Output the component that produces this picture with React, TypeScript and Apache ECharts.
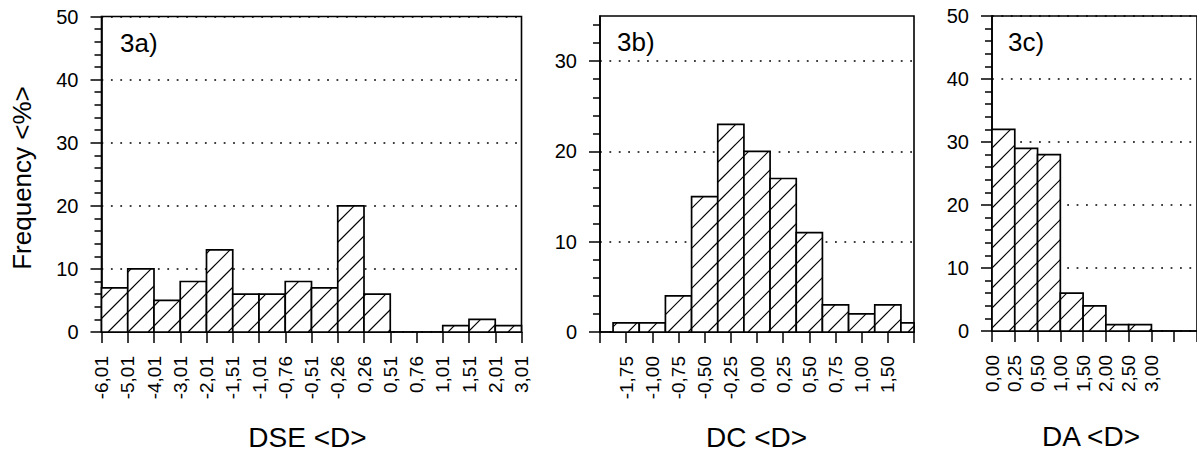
import React, { useEffect, useRef } from "react";
import * as echarts from "echarts";

// ---- data ----
const aEdgeLabels = ["-6,01", "-5,01", "-4,01", "-3,01", "-2,01", "-1,51", "-1,01", "-0,76", "-0,51", "-0,26", "0,26", "0,51", "0,76", "1,01", "1,51", "2,01", "3,01"];
const aFrequency = [7, 10, 5, 8, 13, 6, 6, 8, 7, 20, 6, 0, 0, 1, 2, 1];

const bCenterLabels = ["", "-1,75", "-1,00", "-0,75", "-0,50", "-0,25", "0,00", "0,25", "0,50", "0,75", "1,00", "1,50", ""];
const bFrequency = [0, 1, 1, 4, 15, 23, 20, 17, 11, 3, 2, 3, 1];

const cEdgeLabels = ["0,00", "0,25", "0,50", "1,00", "1,50", "2,00", "2,50", "3,00"];
const cFrequency = [32, 29, 28, 6, 4, 1, 1];

const yMajorTicksB = [0, 10, 20, 30];
const yMinorTicksB = [2, 4, 6, 8, 12, 14, 16, 18, 22, 24, 26, 28, 32, 34];

const panelLabels = ["3a)", "3b)", "3c)"];
const xTitles = ["DSE <D>", "DC <D>", "DA <D>"];
const yTitle = "Frequency <%>";

// ---- style ----
const FONT = "'Liberation Sans', Arial, Helvetica, sans-serif";
const HATCH = 20;
const BLACK = "#000";

function makeRenderItem(xMin: number, xMax: number) {
  return (params: any, api: any) => {
    const x0 = Math.max(api.value(0), xMin);
    const x1 = Math.min(api.value(1), xMax);
    const v = api.value(2);
    if (!v || x1 <= x0) return undefined;
    const pBL = api.coord([x0, 0]);
    const pTR = api.coord([x1, v]);
    const L = pBL[0], R = pTR[0], T = pTR[1], B = pBL[1];
    const children: any[] = [
      { type: "rect", shape: { x: L, y: T, width: R - L, height: B - T }, style: { fill: "#fff" } },
    ];
    const cMin = L + T, cMax = R + B;
    for (let m = Math.ceil(cMin / HATCH); m * HATCH <= cMax; m++) {
      const C = m * HATCH;
      const xs = Math.max(L, C - B);
      const xe = Math.min(R, C - T);
      if (xe - xs < 0.5) continue;
      children.push({
        type: "line",
        shape: { x1: xs, y1: C - xs, x2: xe, y2: C - xe },
        style: { stroke: BLACK, lineWidth: 1.1 },
      });
    }
    children.push({
      type: "rect",
      shape: { x: L, y: T, width: R - L, height: B - T },
      style: { fill: "none", stroke: BLACK, lineWidth: 1.7 },
    });
    return { type: "group", children };
  };
}

const axisLine = { show: true, onZero: false, lineStyle: { color: BLACK, width: 1.6 } };

function xAxisFor(gridIndex: number, max: number, labels: string[]) {
  return {
    type: "value",
    gridIndex,
    min: 0,
    max,
    interval: 1,
    axisLine,
    axisTick: { show: true, length: 11, lineStyle: { color: BLACK, width: 1.5 } },
    axisLabel: {
      rotate: 90,
      margin: 24,
      fontSize: 19,
      fontFamily: FONT,
      color: BLACK,
      showMinLabel: true,
      showMaxLabel: true,
      formatter: (v: number) => labels[Math.round(v)] ?? "",
    },
    splitLine: { show: false },
  };
}

function yAxisAC(gridIndex: number) {
  return {
    type: "value",
    gridIndex,
    min: 0,
    max: 50,
    interval: 10,
    axisLine,
    axisTick: { show: true, length: 11, lineStyle: { color: BLACK, width: 1.5 } },
    minorTick: { show: true, splitNumber: 5, length: 7, lineStyle: { color: BLACK, width: 1.5 } },
    axisLabel: { margin: 23, fontSize: 20, fontFamily: FONT, color: BLACK },
    splitLine: { show: true, lineStyle: { color: BLACK, width: 1.7, type: [1.8, 7.6] } },
  };
}

export default function App() {
  const ref = useRef<HTMLDivElement>(null);

  useEffect(() => {
    if (!ref.current) return;
    const chart = echarts.init(ref.current, undefined, { renderer: "svg" });

    const gridBase = { show: true, borderColor: BLACK, borderWidth: 1.6, backgroundColor: "transparent" };

    const option: any = {
      animation: false,
      backgroundColor: "#fff",
      grid: [
        { ...gridBase, left: 101.5, top: 16.5, width: 420, height: 315.5 },
        { ...gridBase, left: 600, top: 16, width: 314, height: 316 },
        { ...gridBase, left: 992, top: 16, width: 236, height: 315 },
      ],
      xAxis: [
        xAxisFor(0, aFrequency.length, aEdgeLabels),
        xAxisFor(1, bCenterLabels.length - 1, bCenterLabels),
        xAxisFor(2, 9, cEdgeLabels),
      ],
      yAxis: [
        yAxisAC(0),
        {
          type: "value",
          gridIndex: 1,
          min: 0,
          max: 35,
          interval: 10,
          axisLine,
          axisTick: { show: true, length: 11, lineStyle: { color: BLACK, width: 1.5 }, customValues: yMajorTicksB },
          axisLabel: { margin: 23, fontSize: 20, fontFamily: FONT, color: BLACK, customValues: yMajorTicksB },
          splitLine: { show: true, lineStyle: { color: BLACK, width: 1.7, type: [1.8, 7.6] } },
        },
        {
          type: "value",
          gridIndex: 1,
          position: "left",
          min: 0,
          max: 35,
          interval: 2,
          axisLine: { show: false },
          axisTick: { show: true, length: 7, lineStyle: { color: BLACK, width: 1.5 }, customValues: yMinorTicksB },
          axisLabel: { show: false },
          splitLine: { show: false },
        },
        yAxisAC(2),
      ],
      series: [
        {
          type: "custom",
          xAxisIndex: 0,
          yAxisIndex: 0,
          renderItem: makeRenderItem(0, aFrequency.length),
          encode: { x: [0, 1], y: 2 },
          data: aFrequency.map((f, i) => [i, i + 1, f]),
        },
        {
          type: "custom",
          xAxisIndex: 1,
          yAxisIndex: 1,
          renderItem: makeRenderItem(0, bCenterLabels.length - 1),
          encode: { x: [0, 1], y: 2 },
          data: bFrequency.map((f, i) => [i - 0.5, i + 0.5, f]),
        },
        {
          type: "custom",
          xAxisIndex: 2,
          yAxisIndex: 3,
          renderItem: makeRenderItem(0, 9),
          encode: { x: [0, 1], y: 2 },
          data: cFrequency.map((f, i) => [i, i + 1, f]),
        },
      ],
      graphic: [
        { type: "text", x: 120, y: 42.5, style: { text: panelLabels[0], font: `26px ${FONT}`, fill: BLACK, textAlign: "left", textVerticalAlign: "middle" } },
        { type: "text", x: 617, y: 41.5, style: { text: panelLabels[1], font: `26px ${FONT}`, fill: BLACK, textAlign: "left", textVerticalAlign: "middle" } },
        { type: "text", x: 1008, y: 41.5, style: { text: panelLabels[2], font: `26px ${FONT}`, fill: BLACK, textAlign: "left", textVerticalAlign: "middle" } },
        { type: "text", x: 307.5, y: 437, style: { text: xTitles[0], font: `28px ${FONT}`, fill: BLACK, textAlign: "center", textVerticalAlign: "middle" } },
        { type: "text", x: 756.5, y: 437, style: { text: xTitles[1], font: `28px ${FONT}`, fill: BLACK, textAlign: "center", textVerticalAlign: "middle" } },
        { type: "text", x: 1091, y: 436, style: { text: xTitles[2], font: `28px ${FONT}`, fill: BLACK, textAlign: "center", textVerticalAlign: "middle" } },
        { type: "text", x: 22, y: 178, rotation: Math.PI / 2, style: { text: yTitle, font: `26px ${FONT}`, fill: BLACK, textAlign: "center", textVerticalAlign: "middle" } },
      ],
    };

    chart.setOption(option);
    return () => chart.dispose();
  }, []);

  return (
    <div
      ref={ref}
      style={{ position: "absolute", left: 0, top: 0, width: 1197, height: 452, background: "#fff" }}
    />
  );
}
